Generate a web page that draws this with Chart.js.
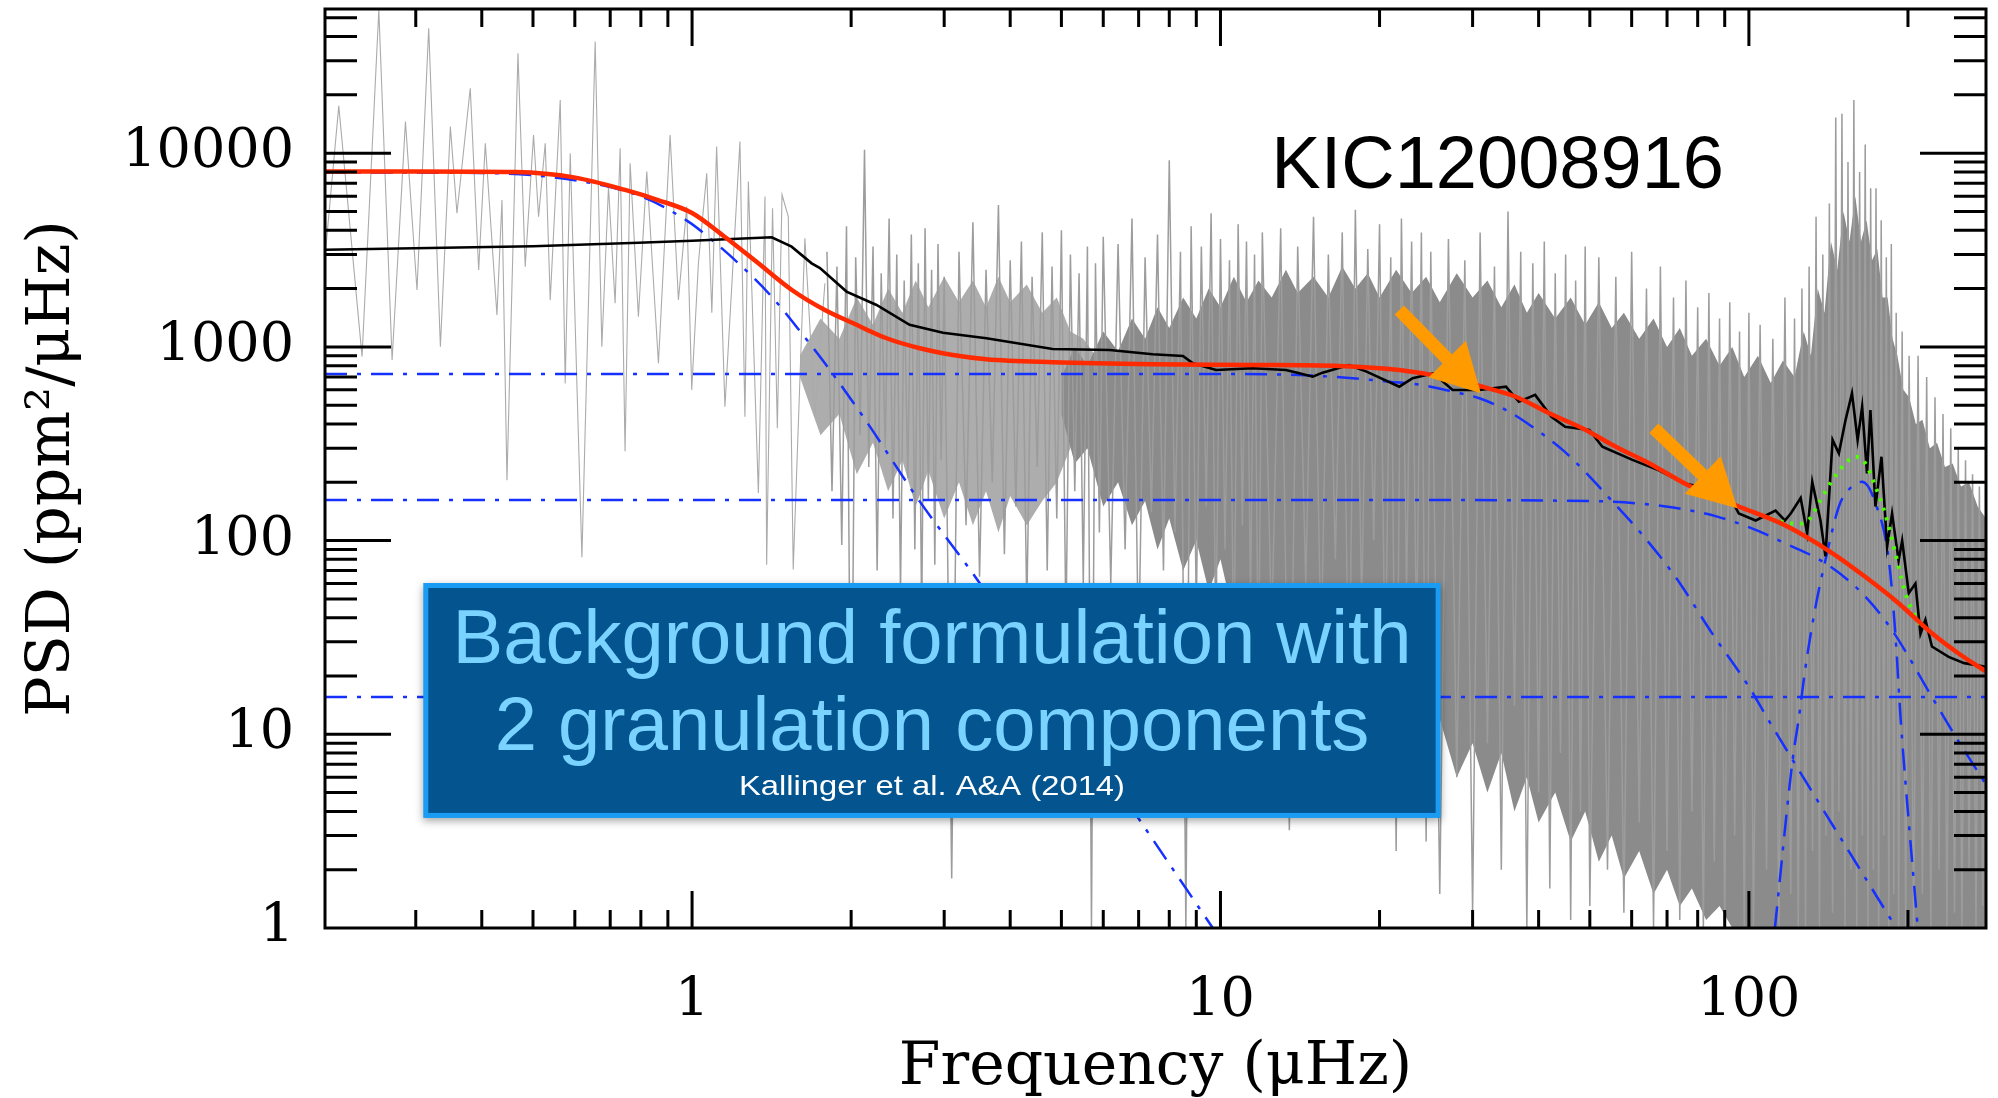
<!DOCTYPE html>
<html>
<head>
<meta charset="utf-8">
<title>KIC12008916 background fit</title>
<script src="https://cdn.jsdelivr.net/npm/chart.js@4.4.1/dist/chart.umd.min.js"></script>
<style>
  html, body { margin: 0; padding: 0; background: #fff; }
  #wrap { width: 1998px; height: 1098px; position: relative; }
</style>
</head>
<body>
<div id="wrap"><canvas id="psd"></canvas></div>
<script>
// axis ranges + ticks
const xMin = 0.202, xMax = 281;
const yMin = 1, yMax = 55500;
const xMajorTicks = [1, 10, 100];
const yMajorTicks = [1, 10, 100, 1000, 10000];

// raw power spectrum, low-frequency part (sparse spikes)
const lowNoiseFreq = [0.2023,0.2145,0.2374,0.2554,0.2706,0.2868,0.3016,0.3174,0.3340,0.3488,0.3590,0.3804,0.3946,0.4062,0.4273,0.4368,0.4464,0.4683,0.4833,0.5012,0.5123,0.5274,0.5390,0.5630,0.5754,0.5881,0.6188,0.6556,0.6749,0.6948,0.7151,0.7309,0.7468,0.7635,0.7915,0.8209,0.8637,0.9087,0.9423,0.9770,0.9986,1.028,1.066,1.09,1.113,1.154,1.232,1.259,1.278,1.335,1.374,1.384,1.42,1.45,1.48,1.521,1.554,1.635,1.708,1.784];
const lowNoisePsd = [3040,17540,891,54800,855,14550,1967,44150,1002,13710,4895,21630,2495,11250,1462,5730,205,32800,2595,12410,4700,11250,1746,18830,648,9980,82,37670,1002,6714,1679,10590,289,8870,1432,8030,823,12410,1746,5300,600,2700,7870,1500,10810,491,11480,436,7130,176,5970,75,5200,380,6100,4700,71,3640,436,2130];

// raw power spectrum, dense part (spike tips, alternating high / low)
const noiseFreq = [
  1.80,1.84,1.88,1.92,1.96,2.00,2.04,2.08,2.12,2.16,2.20,2.24,2.28,2.32,2.36,2.40,2.44,2.48,2.52,2.56,2.60,2.64,2.68,2.72,2.76,2.80,2.84,2.88,2.92,2.96,3.00,
  3.1,3.2,3.3,3.4,3.5,3.6,3.7,3.8,3.9,4.0,4.1,4.2,4.3,4.4,4.5,4.6,4.7,4.8,4.9,5.0,5.1,5.2,5.3,5.4,5.5,5.6,5.7,5.8,5.9,6.0,
  6.2,6.4,6.6,6.8,7.0,7.2,7.4,7.6,7.8,8.0,8.2,8.4,8.6,8.8,9.0,9.2,9.4,9.6,9.8,10.0,10.2,10.4,10.6,10.8,11.0,11.2,11.4,11.6,11.8,12.0,
  12.5,13,13.5,14,14.5,15,15.5,16,16.5,17,17.5,18,18.5,19,19.5,20,20.5,21,21.5,22,22.5,23,23.5,24,24.5,25,
  26,27,28,29,30,31,32,33,34,35,36,37,38,39,40,41,42,43,44,45,46,47,48,49,50,
  52,54,56,58,60,62,64,66,68,70,72,74,76,78,80,82,84,86,88,90,92,94,96,98,100,
  102,105,108,111,114,117,120,122,124,126,128,130,132,134,136,138,140,142,144,146,148,150,152,154,156,158,160,162,164,166,168,170,172,174,176,178,180,182,184,186,188,190,192,195,198,201,
  205,209,213,217,221,225,229,233,237,241,245,249,253,257,261,265,269,273,277,281
];
const noisePsd = [
  3100,180,2600,95,4200,4,2900,350,10400,240,3300,70,2400,300,4600,130,3000,55,2200,210,3800,90,2700,40,4100,160,2500,75,3400,260,2300,
  1.8,3100,120,4400,65,2500,200,5400,85,2800,150,3500,45,2300,240,3900,70,2600,130,4000,35,3000,180,2400,60,3300,1.0,2700,110,3700,
  60,3400,90,4600,25,2900,140,3800,70,9200,110,3100,1.0,4200,45,3300,150,4900,30,3600,90,2800,20,4300,120,3500,50,3000,15,3900,
  35,4100,3.2,3300,60,4700,25,3000,80,3900,12,5100,45,3200,100,4300,18,2900,2.5,4600,55,3500,30,3900,2.8,3100,
  1.5,3600,6,2800,1.2,3900,9,2600,2,5000,14,3100,1.0,2700,5,3500,1.6,2400,8,3000,1.1,2200,4,3300,1.3,
  2900,2.0,2300,1.2,3100,3.5,2000,1.0,2600,2.5,1800,1.1,2200,4,1600,1.0,1900,2.2,1400,1.0,1700,3,1200,1.0,1500,
  1.0,1300,2,1100,1.0,1800,1.5,1400,1.0,2000,1.0,2600,2.5,4700,1.0,3000,3,5500,1.2,15300,4,16000,1.0,9000,2,18800,1.0,8000,3,11100,1.0,6600,2,6600,1.0,4500,3,2900,1.0,3400,1.5,1500,1.0,1200,1.0,900,
  1.0,900,1.5,700,1.0,550,2,450,1.0,380,1.2,300,1.0,260,2,220,1.0,190,1.3,160
];

// hatched (half-dense) part of the spectrum between about 1.6 and 6 µHz
const hatchFreq = [1.6,1.75,1.9,2.05,2.2,2.35,2.5,2.65,2.8,3.0,3.2,3.4,3.6,3.8,4.0,4.3,4.6,4.9,5.2,5.5,5.8];
const hatchTop = [900,1400,1100,1800,1300,2000,1500,2200,1600,2300,1700,2200,1600,2300,1700,2100,1500,1800,1200,1100,900];
const hatchBottom = [700,350,450,220,320,180,260,150,230,130,200,120,180,110,170,120,160,200,300,450,700];

// solid core of the dense spectrum (ragged upper and lower edge)
const coreFreq = [5,5.3,5.6,6,6.4,6.8,7.2,7.6,8,8.5,9,9.5,10,10.6,11.2,11.8,12.5,13.3,14,15,16,17,18,19,20,21.5,23,24.5,26,28,30,32,34,36,38,40,43,46,49,52,55,58,62,66,70,74,78,83,88,93,98,104,110,116,122,127,131,135,139,143,147,151,155,159,163,167,171,175,179,183,187,191,196,201,207,213,220,227,235,243,252,261,271,281];
const coreTop = [700,1000,800,1200,950,1400,1100,1600,1250,1800,1400,2000,1600,2300,1700,2200,1800,2500,1900,2300,1800,2600,2000,2400,1800,2500,1900,2300,1700,2400,1800,2200,1600,2100,1500,1900,1400,1800,1300,1700,1250,1500,1100,1400,1000,1250,900,1100,800,1000,700,900,650,850,700,1200,900,2000,1500,3500,2500,5000,3500,6000,3500,4500,2800,3200,1800,1800,1100,900,600,550,400,420,300,320,240,250,190,200,150,130];
const coreBottom = [450,250,300,150,200,120,160,90,130,70,100,55,80,40,60,30,45,25,35,20,28,15,22,12,18,10,14,8,12,6,9,5,8,4,6,3.5,5,2.8,4,2.2,3,1.8,2.5,1.5,2,1.3,1.6,1.1,1.3,1,1,1,1,1,1,1,1,1,1,1,1,1,1,1,1,1,1,1,1,1,1,1,1,1,1,1,1,1,1,1,1,1,1,1];

// smoothed spectrum (black)
const smoothFreq = [0.2023,0.5,0.792,1.0,1.415,1.543,1.684,1.746,1.96,2.234,2.58,2.985,3.606,4.813,6.17,7.44,8.49,8.87,9.81,11.5,13.3,14.1,14.95,15.6,17.5,18.9,21.8,23.1,25.3,27.5,30.9,34.7,36.7,39.4,42.3,44.9,49.9,52.8,60.2,67.4,75.6,80.5,92.9,95.7,103,112.3,117,120,125.3,128.9,131.8,136.6,139.6,144,148,152.4,156.7,160.6,163.8,167.3,169.8,173.6,178.2,182.6,186.6,192,195,200.7,206.6,211.2,215.8,222,238.8,255.6,281];
const smoothPsd = [3170,3310,3450,3530,3680,3290,2700,2550,1930,1645,1300,1183,1107,975,964,916,898,823,760,776,760,730,702,736,806,745,623,689,730,599,599,623,521,565,436,387,372,305,261,231,197,190,161,138,127,143,127,138,166,109,201,127,83,331,282,420,576,331,491,222,472,150,271,93,138,79,100,53.5,60,33,39,28.4,25.1,23.3,22.3];

// global background fit (red)
const fitFreq = [0.202,0.3,0.465,0.601,0.747,0.862,1.0,1.154,1.333,1.545,1.784,2.018,2.334,2.698,3.118,3.606,4.813,7.437,11.49,16.79,21.8,27.1,31.3,36.2,41.9,48.4,56.0,64.7,77.6,95.7,117,144,166,192,222,249,281];
const fitPsd = [8050,8050,8000,7480,6460,5730,4910,3690,2710,1967,1550,1324,1108,984,908,863,833,813,807,797,760,689,623,553,454,380,305,251,190,150,120,86,65,47.5,33.2,26.2,21.1];

// fit components (blue dash-dot)
const activityFreq = [0.202,0.4,0.6,0.803,0.984,1.09,1.224,1.415,1.612,1.784,2.108,2.66,3.503,7.03,9.67];
const activityPsd = [7950,7900,7250,5964,4431,3565,2700,1815,1175,823,436,168,60.2,3.61,1.0];
const gran1Freq = [0.202,5,10,14.1,17.8,20.9,24.1,27.5,30.9,34.7,38.9,44.4,49.1,55.1,62,72.6,85.2,100,109,190];
const gran1Psd = [725,725,724,716,689,661,635,587,543,472,387,294,225,160,112,65,33.2,17.6,11.8,1];
const gran2Freq = [0.202,20,50,69.6,87.1,103,117,139.6,163.8,186.6,222,242,281];
const gran2Psd = [162,162,160,150,133,113.5,96.8,76.3,53.5,34.5,15.6,10.5,5.5];
const whiteFreq = [0.202, 281];
const whitePsd = [15.6, 15.6];
const gaussFreq = [112,121,124.4,128,133.7,139.6,148,152.4,163.8,173.6,184,189.3,193.6,196.3,208.7];
const gaussPsd = [1,7.4,12.3,22.3,45.6,79.4,150,175,201,156,79.4,33,12.3,7.4,1];

// oscillation excess + background (green dots)
const modesFreq = [110,115.7,124.4,129.9,135.6,144,152.4,159,166,173.6,181,189.3,197.8,206.6,212];
const modesPsd = [130,125,122,128,156,206,251,271,251,190,138,86,53.5,40.5,36];

// annotations, anchored in data coordinates
const starName = 'KIC12008916';
const starLabelAt = [89.7, 6600];
const noteLines = ['Background formulation with', '2 granulation components'];
const noteRef = 'Kallinger et al. A&A (2014)';
const noteBox = { f0: 0.31, f1: 26.1, top: 60.4, bottom: 3.70 };
const arrowTails = [[21.8, 1550], [66.1, 380]];
const arrowTips = [[31.1, 576], [95.1, 147]];

const minorOf = (decades) => decades.flatMap(d => [2, 3, 4, 5, 6, 7, 8, 9].map(k => k * d));
const xMinorTicks = minorOf([0.1, 1, 10, 100]);
const yMinorTicks = minorOf([1, 10, 100, 1000, 10000]);

const xy = (fs, ps) => fs.map((f, i) => ({ x: f, y: ps[i] }));
const SERIF = 'DejaVu Serif';
const SANS = '"Liberation Sans", Arial, sans-serif';
const BLUE = '#1530ff';
const DASHDOT = [22, 10, 4, 10];
const CLEAR = 'rgba(0,0,0,0)';

function line(data, color, width, extra) {
  return Object.assign({
    data, borderColor: color, borderWidth: width, pointRadius: 0,
    fill: false, tension: 0
  }, extra || {});
}

// IDL-style frame, inward ticks on all four sides, plus the overlays
const idlFrame = {
  id: 'idlFrame',
  afterDatasetsDraw(chart) {
    const { ctx, chartArea: a, scales: { x, y } } = chart;
    ctx.save();
    ctx.strokeStyle = '#000';
    const vTick = (v, len, w) => {
      const px = x.getPixelForValue(v);
      if (px < a.left + 1 || px > a.right - 1) return;
      ctx.lineWidth = w;
      ctx.beginPath();
      ctx.moveTo(px, a.bottom); ctx.lineTo(px, a.bottom - len);
      ctx.moveTo(px, a.top); ctx.lineTo(px, a.top + len);
      ctx.stroke();
    };
    const hTick = (v, len, w) => {
      const py = y.getPixelForValue(v);
      if (py < a.top + 1 || py > a.bottom - 1) return;
      ctx.lineWidth = w;
      ctx.beginPath();
      ctx.moveTo(a.left, py); ctx.lineTo(a.left + len, py);
      ctx.moveTo(a.right, py); ctx.lineTo(a.right - len, py);
      ctx.stroke();
    };
    xMinorTicks.forEach(v => vTick(v, 18, 3));
    xMajorTicks.forEach(v => vTick(v, 37, 3));
    yMinorTicks.forEach(v => hTick(v, 32, 3));
    yMajorTicks.forEach(v => hTick(v, 66, 3));
    ctx.lineWidth = 3;
    ctx.strokeRect(a.left, a.top, a.width, a.height);

    // orange arrows
    ctx.fillStyle = '#ff9a00';
    ctx.strokeStyle = '#ff9a00';
    arrowTips.forEach((tip, i) => {
      const tx = x.getPixelForValue(arrowTails[i][0]), ty = y.getPixelForValue(arrowTails[i][1]);
      const hx = x.getPixelForValue(tip[0]), hy = y.getPixelForValue(tip[1]);
      const len = Math.hypot(hx - tx, hy - ty);
      const ux = (hx - tx) / len, uy = (hy - ty) / len;
      const bx = hx - ux * 48, by = hy - uy * 48;
      ctx.lineWidth = 13;
      ctx.lineCap = 'butt';
      ctx.beginPath(); ctx.moveTo(tx, ty); ctx.lineTo(bx + ux * 2, by + uy * 2); ctx.stroke();
      ctx.beginPath();
      ctx.moveTo(hx, hy);
      ctx.lineTo(bx - uy * 26, by + ux * 26);
      ctx.lineTo(bx + uy * 26, by - ux * 26);
      ctx.closePath(); ctx.fill();
    });

    ctx.fillStyle = '#000';
    ctx.font = '74px ' + SANS;
    ctx.textAlign = 'right';
    ctx.textBaseline = 'alphabetic';
    ctx.fillText(starName, x.getPixelForValue(starLabelAt[0]), y.getPixelForValue(starLabelAt[1]));
    ctx.restore();
  },
  afterDraw(chart) {
    const { ctx, scales: { x, y } } = chart;
    const x0 = x.getPixelForValue(noteBox.f0), x1 = x.getPixelForValue(noteBox.f1);
    const y0 = y.getPixelForValue(noteBox.top), y1 = y.getPixelForValue(noteBox.bottom);
    const cx = (x0 + x1) / 2;
    ctx.save();
    ctx.shadowColor = 'rgba(0,0,0,0.35)';
    ctx.shadowBlur = 8;
    ctx.shadowOffsetY = 3;
    ctx.fillStyle = '#1a9cf4';
    ctx.fillRect(x0, y0, x1 - x0, y1 - y0);
    ctx.shadowColor = 'transparent';
    ctx.fillStyle = '#03548f';
    ctx.fillRect(x0 + 5, y0 + 5, x1 - x0 - 10, y1 - y0 - 10);
    ctx.textAlign = 'center';
    ctx.textBaseline = 'alphabetic';
    ctx.fillStyle = '#7ad3ff';
    ctx.font = '76px ' + SANS;
    ctx.fillText(noteLines[0], cx, y0 + 80);
    ctx.fillText(noteLines[1], cx, y0 + 167);
    ctx.fillStyle = '#fff';
    ctx.font = '28px ' + SANS;
    ctx.translate(cx, y0 + 212);
    ctx.scale(1.17, 1);
    ctx.fillText(noteRef, 0, 0);
    ctx.restore();
  }
};

new Chart(document.getElementById('psd'), {
  type: 'line',
  data: {
    datasets: [
      line(xy(fitFreq, fitPsd), '#ff2a00', 4.5, { cubicInterpolationMode: 'monotone', order: 1 }),
      line(xy(modesFreq, modesPsd), '#4cff00', 4, { cubicInterpolationMode: 'monotone', borderDash: [3, 7], order: 2 }),
      line(xy(smoothFreq, smoothPsd), '#000', 2.6, { order: 3 }),
      line(xy(gaussFreq, gaussPsd), BLUE, 2.5, { cubicInterpolationMode: 'monotone', borderDash: DASHDOT, order: 4 }),
      line(xy(activityFreq, activityPsd), BLUE, 2.5, { cubicInterpolationMode: 'monotone', borderDash: DASHDOT, order: 5 }),
      line(xy(gran1Freq, gran1Psd), BLUE, 2.5, { cubicInterpolationMode: 'monotone', borderDash: DASHDOT, order: 5 }),
      line(xy(gran2Freq, gran2Psd), BLUE, 2.5, { cubicInterpolationMode: 'monotone', borderDash: DASHDOT, order: 5 }),
      line(xy(whiteFreq, whitePsd), BLUE, 2.5, { borderDash: DASHDOT, order: 5 }),
      line(xy(lowNoiseFreq, lowNoisePsd), '#ababab', 1.1, { order: 7 }),
      line(xy(noiseFreq, noisePsd), '#9c9c9c', 1.5, { order: 7 }),
      line(xy(coreFreq, coreTop), CLEAR, 0, { fill: '+1', backgroundColor: '#8b8b8b', order: 8 }),
      line(xy(coreFreq, coreBottom), CLEAR, 0, { order: 9 }),
      line(xy(hatchFreq, hatchTop), CLEAR, 0, { fill: '+1', backgroundColor: '#adadad', order: 10 }),
      line(xy(hatchFreq, hatchBottom), CLEAR, 0, { order: 11 })
    ]
  },
  options: {
    responsive: true,
    maintainAspectRatio: false,
    devicePixelRatio: 1,
    animation: false,
    events: [],
    layout: { padding: { left: 0, right: 12, top: 9, bottom: 0 } },
    plugins: { legend: { display: false }, tooltip: { enabled: false } },
    scales: {
      x: {
        type: 'logarithmic', min: xMin, max: xMax,
        grid: { display: false }, border: { display: false },
        afterBuildTicks: s => { s.ticks = xMajorTicks.map(v => ({ value: v })); },
        afterFit: s => { s.height = 170; s.paddingLeft = 0; s.paddingRight = 0; },
        ticks: {
          autoSkip: false, maxRotation: 0, padding: 34, color: '#000',
          font: { family: SERIF, size: 54 },
          callback: v => String(v)
        },
        title: {
          display: true, text: 'Frequency (μHz)', color: '#000',
          font: { family: SERIF, size: 60, lineHeight: 1 }, padding: { top: 0, bottom: 0 }
        }
      },
      y: {
        type: 'logarithmic', min: yMin, max: yMax,
        grid: { display: false }, border: { display: false },
        afterBuildTicks: s => { s.ticks = yMajorTicks.map(v => ({ value: v })); },
        afterFit: s => { s.width = 325; s.paddingTop = 0; s.paddingBottom = 0; },
        ticks: {
          autoSkip: false, padding: 23, color: '#000',
          font: { family: SERIF, size: 54 },
          callback: v => String(v)
        },
        title: {
          display: true, text: 'PSD (ppm²/μHz)', color: '#000',
          font: { family: SERIF, size: 60, lineHeight: 1 }, padding: { top: 23, bottom: 0 }
        }
      }
    }
  },
  plugins: [idlFrame]
});
</script>
</body>
</html>
